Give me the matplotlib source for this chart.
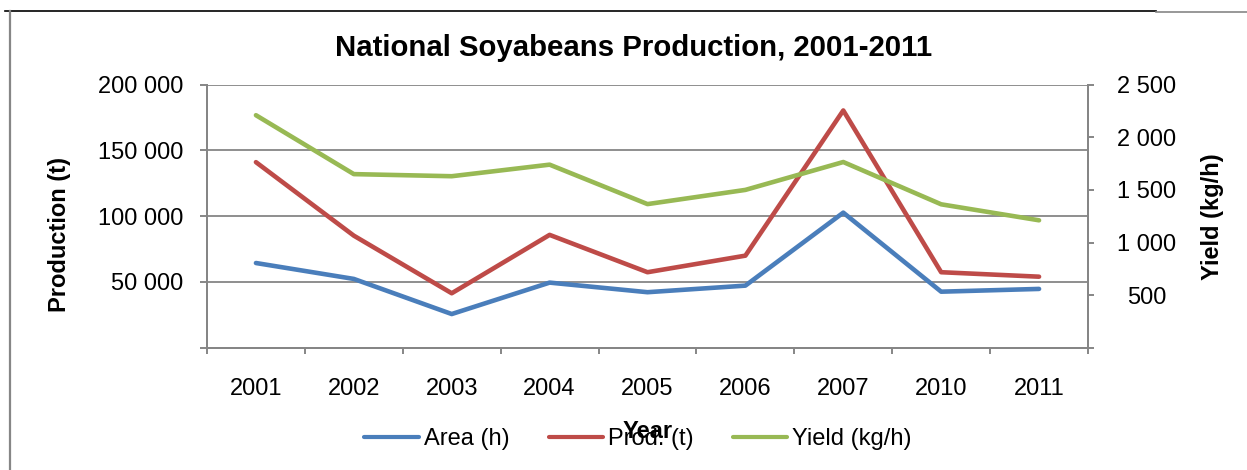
import matplotlib
matplotlib.use("Agg")
import matplotlib.pyplot as plt
from matplotlib.lines import Line2D
from matplotlib.ticker import FixedLocator, FuncFormatter

plt.rcParams['font.family'] = ['Liberation Sans', 'DejaVu Sans']

years = ['2001', '2002', '2003', '2004', '2005', '2006', '2007', '2010', '2011']
area = [64400, 52300, 25600, 49500, 42200, 47200, 102700, 42600, 44700]
prod = [141100, 85200, 41400, 85800, 57400, 70000, 180400, 57400, 54000]
yld = [2210, 1650, 1630, 1740, 1365, 1500, 1765, 1363, 1211]

grey = '#868686'
c_area = '#4A7EBB'
c_prod = '#BE4B48'
c_yld = '#98B954'

def spaced(v, pos):
    if v == 0:
        return ''
    return '{:,.0f}'.format(v).replace(',', ' ')

fig = plt.figure(figsize=(12.47, 4.70), dpi=100)
ax = fig.add_axes([207 / 1247, 1 - 347.7 / 470, (1088 - 207) / 1247, (347.7 - 84.7) / 470])
ax2 = ax.twinx()

x = list(range(len(years)))
l1, = ax.plot(x, area, color=c_area, lw=3.3, solid_capstyle='round', solid_joinstyle='round', zorder=3)
l2, = ax.plot(x, prod, color=c_prod, lw=3.3, solid_capstyle='round', solid_joinstyle='round', zorder=3)
l3, = ax2.plot(x, yld, color=c_yld, lw=3.3, solid_capstyle='round', solid_joinstyle='round', zorder=3)

ax.set_xlim(-0.5, len(years) - 0.5)
ax.set_ylim(0, 200000)
ax2.set_ylim(0, 2500)

ax.yaxis.set_major_locator(FixedLocator([0, 50000, 100000, 150000, 200000]))
ax.yaxis.set_major_formatter(FuncFormatter(spaced))
ax2.yaxis.set_major_locator(FixedLocator([0, 500, 1000, 1500, 2000, 2500]))
ax2.yaxis.set_major_formatter(FuncFormatter(spaced))

# category boundaries carry the ticks, labels sit at the centres
ax.xaxis.set_major_locator(FixedLocator([i - 0.5 for i in range(len(years) + 1)]))
ax.xaxis.set_major_formatter(FuncFormatter(lambda v, p: ''))
ax.xaxis.set_minor_locator(FixedLocator(x))
ax.set_xticklabels(years, minor=True)

ax.grid(axis='y', color=grey, lw=1.3)
ax.set_axisbelow(True)

for a in (ax, ax2):
    for s in a.spines.values():
        s.set_color(grey)
        s.set_linewidth(1.4)
    a.spines['top'].set_visible(False)

ax.tick_params(axis='y', which='major', direction='out', length=5, width=1.4, color=grey,
               labelsize=17, pad=12)
ax.tick_params(axis='x', which='major', direction='out', length=4, width=1.4, color=grey)
ax.tick_params(axis='x', which='minor', length=0, labelsize=17, pad=22)
ax2.tick_params(axis='y', direction='out', length=4, width=1.4, color=grey,
                labelsize=17, pad=38)
for t in ax2.get_yticklabels():
    t.set_horizontalalignment('center')

ax.set_ylabel('Production (t)', fontsize=17, fontweight='bold')
ax.yaxis.set_label_coords(71 / 1247, 0.5, transform=fig.transFigure)
ax2.set_ylabel('Yield (kg/h)', fontsize=17, fontweight='bold', rotation=90)
ax2.yaxis.set_label_coords(1201 / 1247, 1 - 217 / 470, transform=fig.transFigure)

fig.text(634 / 1247, 1 - 48 / 470, 'National Soyabeans Production, 2001-2011',
         ha='center', va='center', fontsize=21.2, fontweight='bold')

leg = fig.legend([l1, l2, l3], ['Area (h)', 'Prod. (t)', 'Yield (kg/h)'],
                 loc='center', bbox_to_anchor=(638 / 1247, 1 - 439 / 470), ncol=3,
                 frameon=False, fontsize=17, handlelength=2.3, handletextpad=0.22,
                 columnspacing=1.65, borderpad=0, borderaxespad=0)
for h in leg.legend_handles:
    h.set_linewidth(3)
leg.set_zorder(5)

fig.text(648 / 1247, 1 - 432 / 470, 'Year', ha='center', va='center',
         fontsize=17, fontweight='bold', zorder=10)

# page border lines
fig.add_artist(Line2D([5 / 1247, 1156 / 1247], [1 - 10.7 / 470, 1 - 10.7 / 470],
                      transform=fig.transFigure, color='black', lw=1.2))
fig.add_artist(Line2D([1156 / 1247, 1], [1 - 11.5 / 470, 1 - 11.5 / 470],
                      transform=fig.transFigure, color=grey, lw=1.2))
fig.add_artist(Line2D([10 / 1247, 10 / 1247], [1 - 11 / 470, 0],
                      transform=fig.transFigure, color=grey, lw=1.6))

fig.savefig('out.png', dpi=100)
